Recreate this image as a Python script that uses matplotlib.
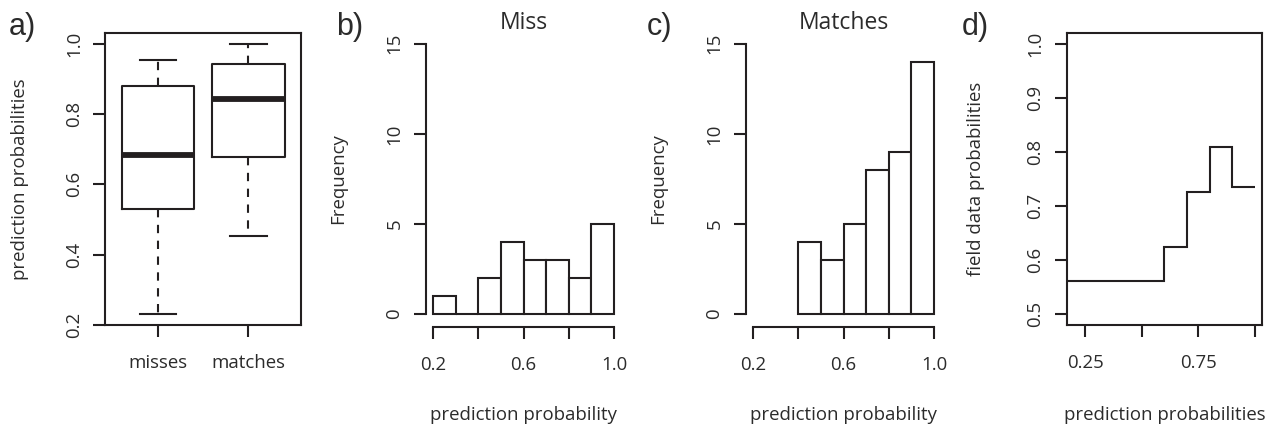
import matplotlib
matplotlib.use("Agg")
import matplotlib.pyplot as plt
from matplotlib.ticker import FixedLocator, FixedFormatter

plt.rcParams['font.family'] = ['Open Sans', 'DejaVu Sans']

INK = '#231f20'
TXT = '#2b2b2b'

# ---- data -------------------------------------------------------------
box_groups = ['misses', 'matches']
box_whislo = [0.231, 0.454]
box_q1 = [0.530, 0.677]
box_med = [0.683, 0.844]
box_q3 = [0.881, 0.943]
box_whishi = [0.955, 1.000]

miss_edges = [0.2, 0.3, 0.4, 0.5, 0.6, 0.7, 0.8, 0.9, 1.0]
miss_counts = [1, 0, 2, 4, 3, 3, 2, 5]

match_edges = [0.4, 0.5, 0.6, 0.7, 0.8, 0.9, 1.0]
match_counts = [4, 3, 5, 8, 9, 14]

step_edges = [0.0, 0.6, 0.7, 0.8, 0.9, 1.0]
step_values = [0.562, 0.624, 0.726, 0.810, 0.736]

box_yticks = [0.2, 0.4, 0.6, 0.8, 1.0]
hist_xticks = [0.2, 0.4, 0.6, 0.8, 1.0]
hist_xlabels = ['0.2', '', '0.6', '', '1.0']
hist_yticks = [0, 5, 10, 15]
step_xticks = [0.25, 0.5, 0.75, 1.0]
step_xlabels = ['0.25', '', '0.75', '']
step_yticks = [0.5, 0.6, 0.7, 0.8, 0.9, 1.0]


def padded(lo, hi, frac=0.04):
    r = hi - lo
    return lo - frac * r, hi + frac * r


FS = 13.4
LW = 1.5
TICKLEN = 8.6

fig = plt.figure(figsize=(12.85, 4.3), dpi=100)
bottom, height = 0.2442, 0.6791
axa = fig.add_axes([0.0819, bottom, 0.1523, height])
axb = fig.add_axes([0.3315, bottom, 0.1520, height])
axc = fig.add_axes([0.5805, bottom, 0.1520, height])
axd = fig.add_axes([0.8301, bottom, 0.1522, height])


def style_ticks(ax, xpad=12, ypad=14):
    ax.tick_params(axis='both', direction='out', length=TICKLEN, width=LW,
                   colors=INK, labelcolor=TXT, labelsize=FS)
    ax.tick_params(axis='x', pad=xpad)
    ax.tick_params(axis='y', pad=ypad)
    for lab in ax.get_yticklabels():
        lab.set_rotation(90)
        lab.set_va('center')
        lab.set_ha('center')


# ---- a) boxplot ---------------------------------------------------------
stats = []
for i, name in enumerate(box_groups):
    stats.append(dict(label=name, whislo=box_whislo[i], q1=box_q1[i],
                      med=box_med[i], q3=box_q3[i], whishi=box_whishi[i]))
axa.bxp(stats, positions=[1, 2], widths=0.8, capwidths=0.4, showfliers=False,
        boxprops=dict(color=INK, linewidth=LW),
        medianprops=dict(color=INK, linewidth=4.2, solid_capstyle='butt'),
        whiskerprops=dict(color=INK, linewidth=LW, linestyle=(0, (4, 3.6))),
        capprops=dict(color=INK, linewidth=LW))
axa.set_xlim(*padded(0.5, 2.5))
axa.set_ylim(*padded(min(box_whislo), max(box_whishi)))
axa.set_xticks([1, 2])
axa.set_xticklabels(box_groups)
axa.set_yticks(box_yticks)
axa.set_yticklabels([f'{v:.1f}' for v in box_yticks])
for s in axa.spines.values():
    s.set_linewidth(LW)
    s.set_color(INK)
style_ticks(axa, xpad=12)
axa.set_ylabel('prediction probabilities', fontsize=FS, color=TXT, va='center')
axa.yaxis.set_label_coords(-0.436, 0.5)


# ---- b), c) histograms ----------------------------------------------------
def hist_panel(ax, edges, counts, title):
    lefts = edges[:-1]
    widths = [edges[i + 1] - edges[i] for i in range(len(counts))]
    ax.bar(lefts, counts, width=widths, align='edge', facecolor='white',
           edgecolor=INK, linewidth=LW)
    ax.set_xlim(*padded(0.2, 1.0))
    ax.set_ylim(*padded(0, 15))
    ax.spines['top'].set_visible(False)
    ax.spines['right'].set_visible(False)
    for side in ('left', 'bottom'):
        ax.spines[side].set_linewidth(LW)
        ax.spines[side].set_color(INK)
    ax.spines['left'].set_bounds(0, 15)
    ax.spines['bottom'].set_bounds(0.2, 1.0)
    ax.spines['bottom'].set_position(('outward', 1.5))
    ax.xaxis.set_major_locator(FixedLocator(hist_xticks))
    ax.xaxis.set_major_formatter(FixedFormatter(hist_xlabels))
    ax.set_yticks(hist_yticks)
    ax.set_yticklabels([str(v) for v in hist_yticks])
    style_ticks(ax, xpad=12)
    ax.set_ylabel('Frequency', fontsize=FS, color=TXT, va='center')
    ax.yaxis.set_label_coords(-0.45, 0.5)
    ax.set_xlabel('prediction probability', fontsize=FS, color=TXT, va='center')
    ax.xaxis.set_label_coords(0.5, -0.308)
    ax.set_title(title, fontsize=16.5, color=TXT, y=1.034, va='center', pad=0)


hist_panel(axb, miss_edges, miss_counts, 'Miss')
hist_panel(axc, match_edges, match_counts, 'Matches')

# ---- d) step curve ----------------------------------------------------------
axd.stairs(step_values, step_edges, baseline=None, color=INK, linewidth=LW)
axd.set_xlim(*padded(0.2, 1.0))
axd.set_ylim(*padded(0.5, 1.0))
axd.xaxis.set_major_locator(FixedLocator(step_xticks))
axd.xaxis.set_major_formatter(FixedFormatter(step_xlabels))
axd.set_yticks(step_yticks)
axd.set_yticklabels([f'{v:.1f}' for v in step_yticks])
for s in axd.spines.values():
    s.set_linewidth(LW)
    s.set_color(INK)
style_ticks(axd, xpad=12)
axd.set_ylabel('field data probabilities', fontsize=FS, color=TXT, va='center')
axd.yaxis.set_label_coords(-0.464, 0.5)
axd.set_xlabel('prediction probabilities', fontsize=FS, color=TXT, va='center')
axd.xaxis.set_label_coords(0.5, -0.308)

# ---- panel letters ----------------------------------------------------------
for x0, letter in [(9, 'a)'), (336, 'b)'), (647, 'c)'), (962, 'd)')]:
    fig.text(x0 / 1285, 1 - 27 / 430, letter, ha='left', va='center',
             fontsize=22, color=TXT, family=['Liberation Sans', 'DejaVu Sans'])

fig.savefig('out.png', dpi=100, facecolor='white')
